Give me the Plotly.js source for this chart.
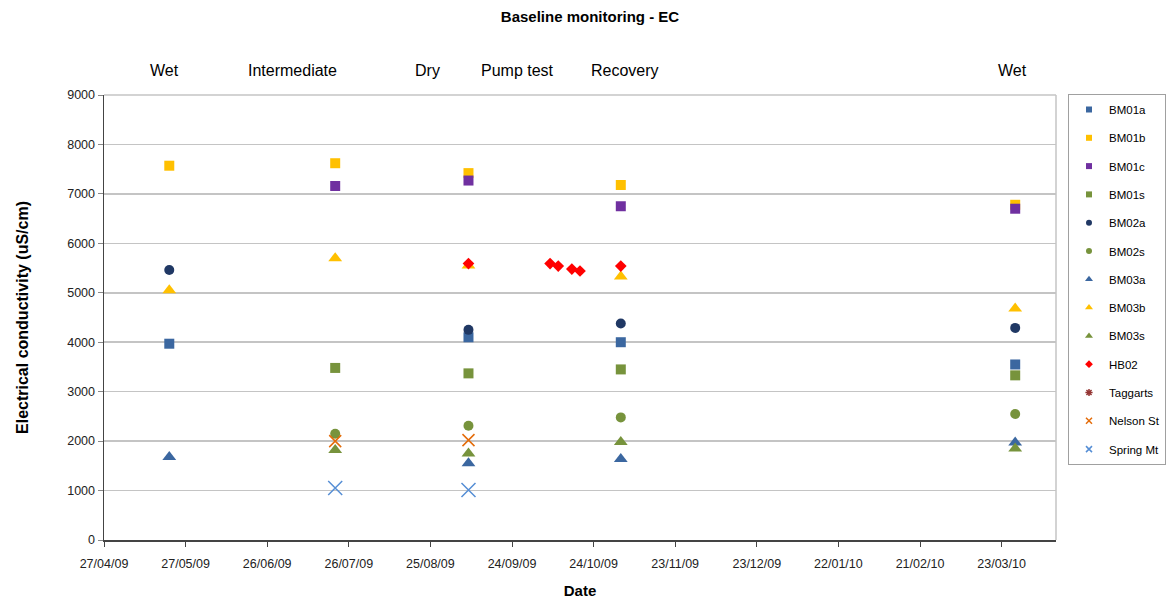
<!DOCTYPE html>
<html>
<head>
<meta charset="utf-8">
<script src="https://cdn.plot.ly/plotly-3.0.1.min.js"></script>
<style>html,body{margin:0;padding:0;background:#fff;}#chart{width:1173px;height:599px;}</style>
</head>
<body>
<div id="chart"></div>
<script>
// Sampling dates
const dWet1 = '2009-05-21';
const dInter = '2009-07-21';
const dPump = '2009-09-08';
const dRecov = '2009-11-03';
const dWet2 = '2010-03-28';

const BM01a_x = [dWet1, dPump, dRecov, dWet2];
const BM01a_y = [3970, 4100, 4000, 3550];
const BM01b_x = [dWet1, dInter, dPump, dRecov, dWet2];
const BM01b_y = [7570, 7620, 7420, 7180, 6780];
const BM01c_x = [dInter, dPump, dRecov, dWet2];
const BM01c_y = [7160, 7270, 6750, 6700];
const BM01s_x = [dInter, dPump, dRecov, dWet2];
const BM01s_y = [3480, 3370, 3450, 3330];
const BM02a_x = [dWet1, dPump, dRecov, dWet2];
const BM02a_y = [5460, 4250, 4380, 4290];
const BM02s_x = [dInter, dPump, dRecov, dWet2];
const BM02s_y = [2150, 2310, 2480, 2550];
const BM03a_x = [dWet1, dPump, dRecov, dWet2];
const BM03a_y = [1680, 1550, 1640, 1970];
const BM03b_x = [dWet1, dInter, dPump, dRecov, dWet2];
const BM03b_y = [5050, 5700, 5550, 5330, 4680];
const BM03s_x = [dInter, dPump, dRecov, dWet2];
const BM03s_y = [1820, 1750, 1980, 1850];
const HB02_x = [dPump, '2009-10-08', '2009-10-11', '2009-10-16', '2009-10-19', dRecov];
const HB02_y = [5590, 5590, 5540, 5480, 5440, 5540];
const Taggarts_x = [];
const Taggarts_y = [];
const NelsonSt_x = [dInter, dPump];
const NelsonSt_y = [2000, 2020];
const SpringMt_x = [dInter, dPump];
const SpringMt_y = [1050, 1010];

const seasonLabels = ['Wet','Intermediate','Dry','Pump test','Recovery','Wet'];
const seasonPos = [0.064, 0.198, 0.340, 0.434, 0.547, 0.954];

const xTick0 = '2009-04-27';
const xRange = ['2009-04-27', '2010-04-12'];

const FONT = 'Liberation Sans, Arial, sans-serif';

const specs = [
  ['BM01a', BM01a_x, BM01a_y, 'square', '#3B67A0', 10, false],
  ['BM01b', BM01b_x, BM01b_y, 'square', '#FFC000', 10, false],
  ['BM01c', BM01c_x, BM01c_y, 'square', '#7030A0', 10, false],
  ['BM01s', BM01s_x, BM01s_y, 'square', '#77933C', 10, false],
  ['BM02a', BM02a_x, BM02a_y, 'circle', '#203864', 10, false],
  ['BM02s', BM02s_x, BM02s_y, 'circle', '#77933C', 10, false],
  ['BM03a', BM03a_x, BM03a_y, 'triangle-up', '#3B67A0', 12, false],
  ['BM03b', BM03b_x, BM03b_y, 'triangle-up', '#FFC000', 12, false],
  ['BM03s', BM03s_x, BM03s_y, 'triangle-up', '#77933C', 12, false],
  ['HB02', HB02_x, HB02_y, 'diamond', '#FF0000', 9, false],
  ['Taggarts', Taggarts_x, Taggarts_y, 'asterisk-open', '#953735', 10, true],
  ['Nelson St', NelsonSt_x, NelsonSt_y, 'x-thin-open', '#E46C0A', 12, true],
  ['Spring Mt', SpringMt_x, SpringMt_y, 'x-thin-open', '#558ED5', 14, true]
];

function marker(symbol, color, size, lineOnly) {
  const m = {symbol: symbol, color: color, size: size};
  m.line = lineOnly ? {color: color, width: 1.5} : {width: 0};
  return m;
}

const traces = [];
// data traces
specs.forEach(s => {
  traces.push({type: 'scatter', mode: 'markers', name: s[0], x: s[1], y: s[2],
    marker: marker(s[3], s[4], s[5], s[6]), showlegend: false, legendgroup: s[0], cliponaxis: false});
});
// legend entries (small symbols as in the original legend)
specs.forEach(s => {
  traces.push({type: 'scatter', mode: 'markers', name: s[0], x: [null], y: [null],
    marker: marker(s[3], s[4], s[6] ? 6 : (s[3] === 'triangle-up' ? 7 : 6), s[6]),
    showlegend: true, legendgroup: s[0]});
});

const annotations = seasonLabels.map((t, i) => ({
  text: t, x: seasonPos[i], y: 1.056, xref: 'paper', yref: 'paper',
  showarrow: false, xanchor: 'center', yanchor: 'middle',
  font: {family: FONT, size: 16, color: '#000'}
}));

const layout = {
  width: 1173, height: 599,
  paper_bgcolor: '#fff', plot_bgcolor: '#fff',
  margin: {l: 104, r: 117, t: 95, b: 59},
  font: {family: FONT, size: 12, color: '#000'},
  title: {text: '<b>Baseline monitoring - EC</b>', x: 0.503, xanchor: 'center', y: 0.972, yanchor: 'middle',
          font: {family: FONT, size: 15, color: '#000'}},
  xaxis: {
    type: 'date', range: xRange, tick0: xTick0, dtick: 30 * 86400000,
    tickformat: '%d/%m/%y', ticks: 'outside', ticklen: 5, tickcolor: '#444',
    ticklabelstandoff: 6,
    showgrid: false, zeroline: false, showline: true, linecolor: '#444', linewidth: 1.5,
    mirror: false, tickfont: {family: FONT, size: 12.5, color: '#222'},
    title: {text: '<b>Date</b>', font: {family: FONT, size: 15, color: '#000'}, standoff: 20}
  },
  yaxis: {
    range: [0, 9000], dtick: 1000, tick0: 0, ticks: 'outside', ticklen: 5, tickcolor: '#888',
    showgrid: true, gridcolor: '#C4C4C4', gridwidth: 1.5, zeroline: false,
    showline: true, linecolor: '#444', linewidth: 1.5,
    tickfont: {family: FONT, size: 12.5, color: '#222'},
    title: {text: '<b>Electrical conductivity (uS/cm)</b>', font: {family: FONT, size: 16, color: '#000'}, standoff: 34}
  },
  shapes: [
    {type: 'line', xref: 'paper', yref: 'paper', x0: 1, x1: 1, y0: 0, y1: 1, line: {color: '#C4C4C4', width: 1.5}},
    {type: 'line', xref: 'paper', yref: 'paper', x0: 0, x1: 1, y0: 1, y1: 1, line: {color: '#C4C4C4', width: 1.5}}
  ],
  legend: {
    xref: 'container', yref: 'container',
    x: 1068 / 1173, xanchor: 'left', y: 1 - 94 / 599, yanchor: 'top',
    maxheight: 500,
    bgcolor: '#fff', bordercolor: '#A0A0A0', borderwidth: 1,
    font: {family: FONT, size: 11.5, color: '#000'},
    tracegroupgap: 9.3, itemwidth: 30, itemsizing: 'trace'
  },
  annotations: annotations,
  showlegend: true
};

Plotly.newPlot('chart', traces, layout, {displayModeBar: false, staticPlot: true});
</script>
</body>
</html>
